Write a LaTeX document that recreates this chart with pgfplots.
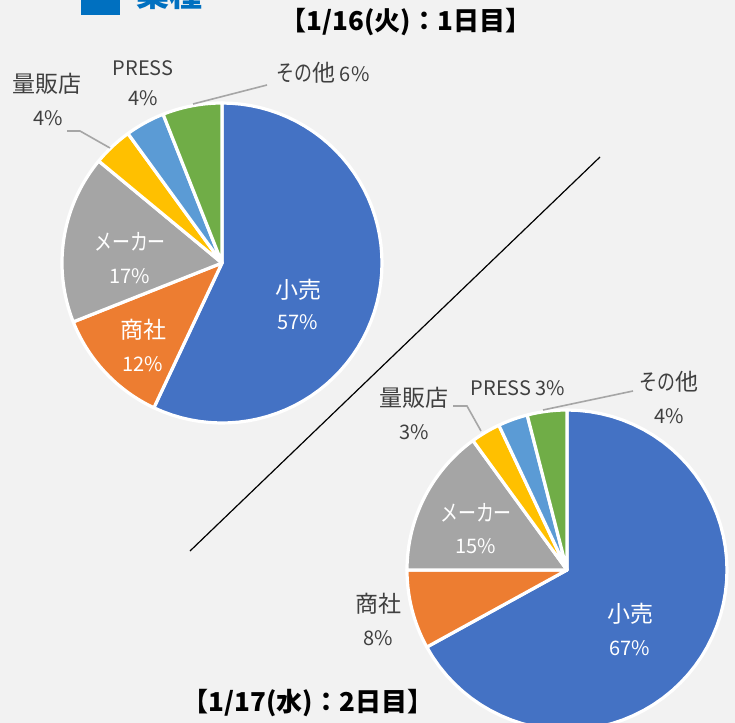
\documentclass[border=0pt]{standalone}
\usepackage{fontspec}
\setmainfont{Noto Sans CJK JP}
\usepackage{graphicx}
\usepackage{pgfplots}
\pgfplotsset{compat=1.18}

\definecolor{bg}{HTML}{F2F2F2}
\definecolor{c1}{HTML}{4472C4}
\definecolor{c2}{HTML}{ED7D31}
\definecolor{c3}{HTML}{A5A5A5}
\definecolor{c4}{HTML}{FFC000}
\definecolor{c5}{HTML}{5B9BD5}
\definecolor{c6}{HTML}{70AD47}
\definecolor{lbl}{HTML}{404040}
\definecolor{lead}{HTML}{A6A6A6}
\definecolor{ttl}{HTML}{0070C0}

\tikzset{
  lbl/.style={font=\fontsize{10}{11}\selectfont, text=lbl, inner sep=0pt},
  wlbl/.style={font=\fontsize{10}{11}\selectfont, text=white, inner sep=0pt},
}
% kanji a little larger, kana narrower, as in the source font
\newcommand\J[1]{{\fontsize{11.5}{12}\selectfont #1}}
\newcommand\K[1]{\scalebox{0.78}[1]{\fontsize{11.5}{12}\selectfont #1}}

% pie: centre x, centre y (pixels), shares in percent, clockwise from 12 o'clock
\newcommand\pie[3]{%
  \xdef\cum{0}%
  \foreach \v [count=\i] in {#3} {%
    \pgfmathsetmacro\a{\cum*3.6}%
    \pgfmathsetmacro\c{\cum+\v}%
    \pgfmathsetmacro\b{\c*3.6}%
    \xdef\cum{\c}%
    \edef\doit{\noexpand\addplot[draw=white, line width=1.6pt, line join=round,
        fill=c\i, domain=\a:\b, samples=60]
      ({#1+160*sin(x)},{#2-160*cos(x)}) -- (axis cs:#1,#2) -- cycle;}%
    \doit
  }%
}

\begin{document}
\begin{tikzpicture}
\begin{axis}[
    width=367.5pt, height=361.5pt, scale only axis,
    xmin=0, xmax=735, ymin=0, ymax=723, y dir=reverse,
    hide axis, clip=true,
]
\fill[bg] (axis cs:0,0) rectangle (axis cs:735,723);

% day 1: 小売, 商社, メーカー, 量販店, PRESS, その他
\pie{222}{263}{57,12,17,4,4,6}
% day 2
\pie{567}{570}{67,8,15,3,3,4}

% divider
\draw[black, line width=0.6pt] (axis cs:600,157) -- (axis cs:190,551);

% leader lines
\draw[lead, line width=0.8pt] (axis cs:67,131) -- (axis cs:80,131) -- (axis cs:110,148);
\draw[lead, line width=0.8pt] (axis cs:193,104) -- (axis cs:267,85);
\draw[lead, line width=0.8pt] (axis cs:453,406) -- (axis cs:467,406) -- (axis cs:481,431);
\draw[lead, line width=0.8pt] (axis cs:543,410) -- (axis cs:633,391);

% day 1 labels
\node[wlbl] at (axis cs:298,290) {\J{小売}};
\node[wlbl] at (axis cs:298,322) {57\%};
\node[wlbl] at (axis cs:143,330) {\J{商社}};
\node[wlbl] at (axis cs:143,364) {12\%};
\node[wlbl] at (axis cs:130,242) {\K{メーカー}};
\node[wlbl] at (axis cs:130,276) {17\%};
\node[lbl] at (axis cs:47,84) {\J{量販店}};
\node[lbl] at (axis cs:48,118) {4\%};
\node[lbl] at (axis cs:143,68) {PRESS};
\node[lbl] at (axis cs:143,98) {4\%};
\node[lbl] at (axis cs:323,73) {\K{その}\J{他} 6\%};

% day 2 labels
\node[wlbl] at (axis cs:630,614) {\J{小売}};
\node[wlbl] at (axis cs:630,648) {67\%};
\node[lbl] at (axis cs:378,604) {\J{商社}};
\node[lbl] at (axis cs:378,638) {8\%};
\node[wlbl] at (axis cs:476,513) {\K{メーカー}};
\node[wlbl] at (axis cs:476,546) {15\%};
\node[lbl] at (axis cs:414,398) {\J{量販店}};
\node[lbl] at (axis cs:414,432) {3\%};
\node[lbl] at (axis cs:518,388) {PRESS 3\%};
\node[lbl] at (axis cs:669,382) {\K{その}\J{他}};
\node[lbl] at (axis cs:669,416) {4\%};

% headings
\node[font=\fontsize{13}{14}\selectfont\bfseries, inner sep=0pt] at (axis cs:406,22) {【1/16(火)：1日目】};
\node[font=\fontsize{13}{14}\selectfont\bfseries, inner sep=0pt] at (axis cs:308,703) {【1/17(水)：2日目】};
\fill[ttl] (axis cs:81,-10) rectangle (axis cs:120,15);
\node[font=\fontsize{16.5}{17}\selectfont\bfseries, text=ttl, anchor=base west, inner sep=0pt] at (axis cs:136,6) {業種};
\end{axis}
\pgfresetboundingbox
\useasboundingbox (0,0) rectangle (367.5pt,361.5pt);
\end{tikzpicture}
\end{document}
